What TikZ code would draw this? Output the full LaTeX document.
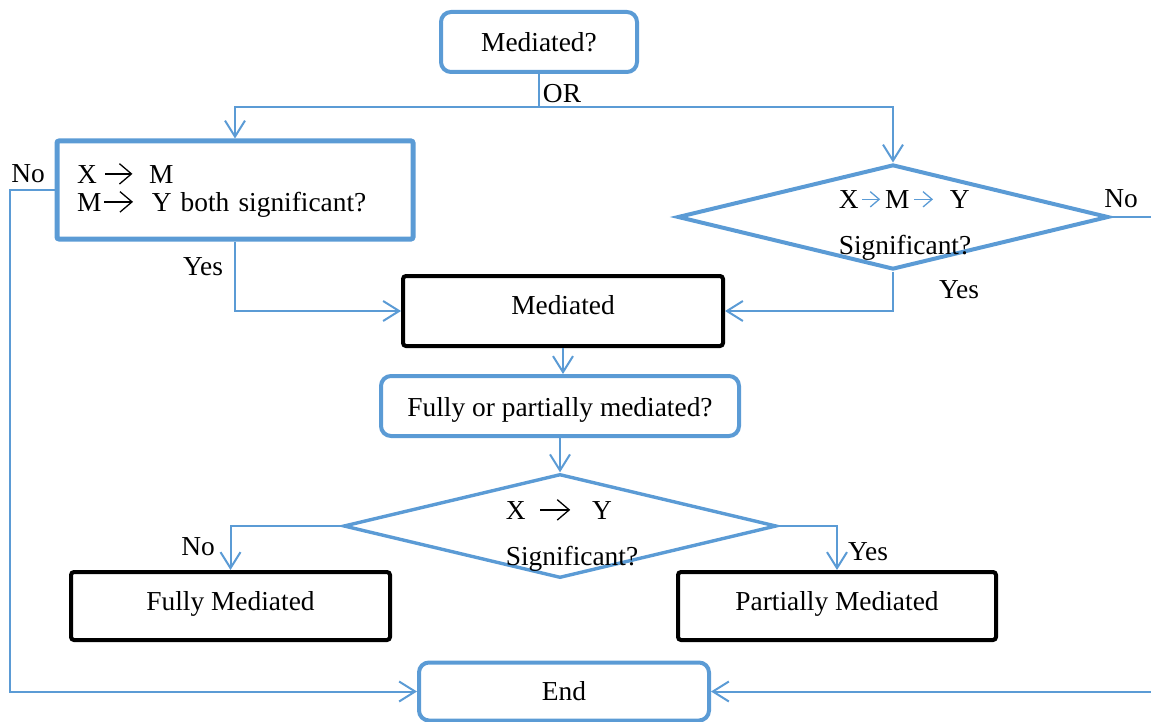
\documentclass[tikz,border=0pt]{standalone}
\usepackage{fontspec}
\setmainfont{Liberation Serif}
\usetikzlibrary{arrows.meta,shapes.geometric}
\definecolor{flowblue}{RGB}{91,155,213}

% small arrow used inside the texts
\newcommand{\txtarrow}[3]{\tikz[baseline=-4.6pt]\draw[#1,line width=0.65pt,-{Straight Barb[length=#3,width=#3*1.7]}] (0pt,0pt) -- (#2,0pt);}

\tikzset{
  roundbox/.style={draw=flowblue, line width=2pt, rounded corners=5pt},
  bluebox/.style={draw=flowblue, line width=2.5pt, rounded corners=1pt},
  blackbox/.style={draw=black, line width=2pt, rounded corners=1.5pt},
  decision/.style={diamond, draw=flowblue, line width=2pt, aspect=4},
  flow/.style={draw=flowblue, line width=1pt},
  flowarrow/.style={flow, -{Straight Barb[length=8pt,width=10pt]}}
}

\begin{document}
\begin{tikzpicture}[x=0.5pt,y=-0.5pt,font=\fontsize{13.7}{14}\selectfont]
    \useasboundingbox (0,0) rectangle (1151,722);

    % Top: the question
    \node[roundbox, minimum width=98pt, minimum height=30pt] (start) at (539,42) {Mediated?};
    \coordinate (fork) at (539,107);

    % Second row: the two tests
    \node[bluebox, minimum width=178pt, minimum height=49pt, text width=158pt,
          inner xsep=10pt, align=left] (both) at (235,190)
      {X\hspace{4pt}\txtarrow{black}{13.5pt}{6pt}\hspace{8pt}M\\
       M\hspace{1pt}\txtarrow{black}{14.5pt}{6pt}\hspace{9pt}Y both significant?};
    \node[decision, minimum width=215.5pt, minimum height=52.5pt] (sobel) at (893,217) {};
    \node[align=left, inner sep=0pt] (sobeltxt) at (905,225.5)
      {X\hspace{1.5pt}\txtarrow{flowblue}{9pt}{4.5pt}\hspace{2pt}M\hspace{2pt}\txtarrow{flowblue}{9.5pt}{4.5pt}\hspace{8pt}Y\\[9pt]
       Significant?};

    % Middle column
    \node[blackbox, minimum width=160pt, minimum height=35pt, text depth=6.5pt] (med) at (563,311) {Mediated};
    \node[roundbox, minimum width=179pt, minimum height=30pt, text height=13pt] (kind) at (560,406) {Fully or partially mediated?};
    \node[decision, line width=1.7pt, minimum width=216.5pt, minimum height=52pt] (direct) at (560,526) {};
    \node[align=left, inner sep=0pt] (directtxt) at (572,535)
      {X\hspace{7pt}\txtarrow{black}{15pt}{6pt}\hspace{10.5pt}Y\\[9pt]
       Significant?};

    % Bottom row: the outcomes
    \node[blackbox, minimum width=159.5pt, minimum height=34pt, text depth=5pt] (fully) at (230.5,606) {Fully Mediated};
    \node[blackbox, minimum width=159pt, minimum height=34pt, text depth=5pt] (partly) at (837,606) {Partially Mediated};
    \node[roundbox, minimum width=145pt, minimum height=29pt] (end) at (564,691.5) {End};

    % Edges from the question
    \draw[flow] (start) -- (fork);
    \draw[flowarrow] (fork) -| (both.north);
    \draw[flowarrow] (fork) -| (sobel.north);
    \node (or) at (562,94) {OR};

    % Edges from the two tests
    \draw[flowarrow] (both.south) |- (med.west);
    \draw[flowarrow] (sobel.south) |- (med.east);
    \draw[flowarrow] (both.west) -- (10,190) |- (end.west);
    \draw[flowarrow] (sobel.east) -- (1160,217) |- (end.east);
    \node (noleft)  at (28,174)  {No};
    \node (yesleft) at (203,267) {Yes};
    \node (noright) at (1121,199) {No};
    \node (yesright) at (959,290) {Yes};

    % Edges down the middle
    \draw[flowarrow] (med.south) -- (med.south |- kind.north);
    \draw[flowarrow] (kind) -- (direct.north);
    \draw[flowarrow] (direct.west) -| (fully.north);
    \draw[flowarrow] (direct.east) -| (partly.north);
    \node (nofull)  at (198,547) {No};
    \node (yespart) at (868,552) {Yes};
  \end{tikzpicture}
\end{document}
